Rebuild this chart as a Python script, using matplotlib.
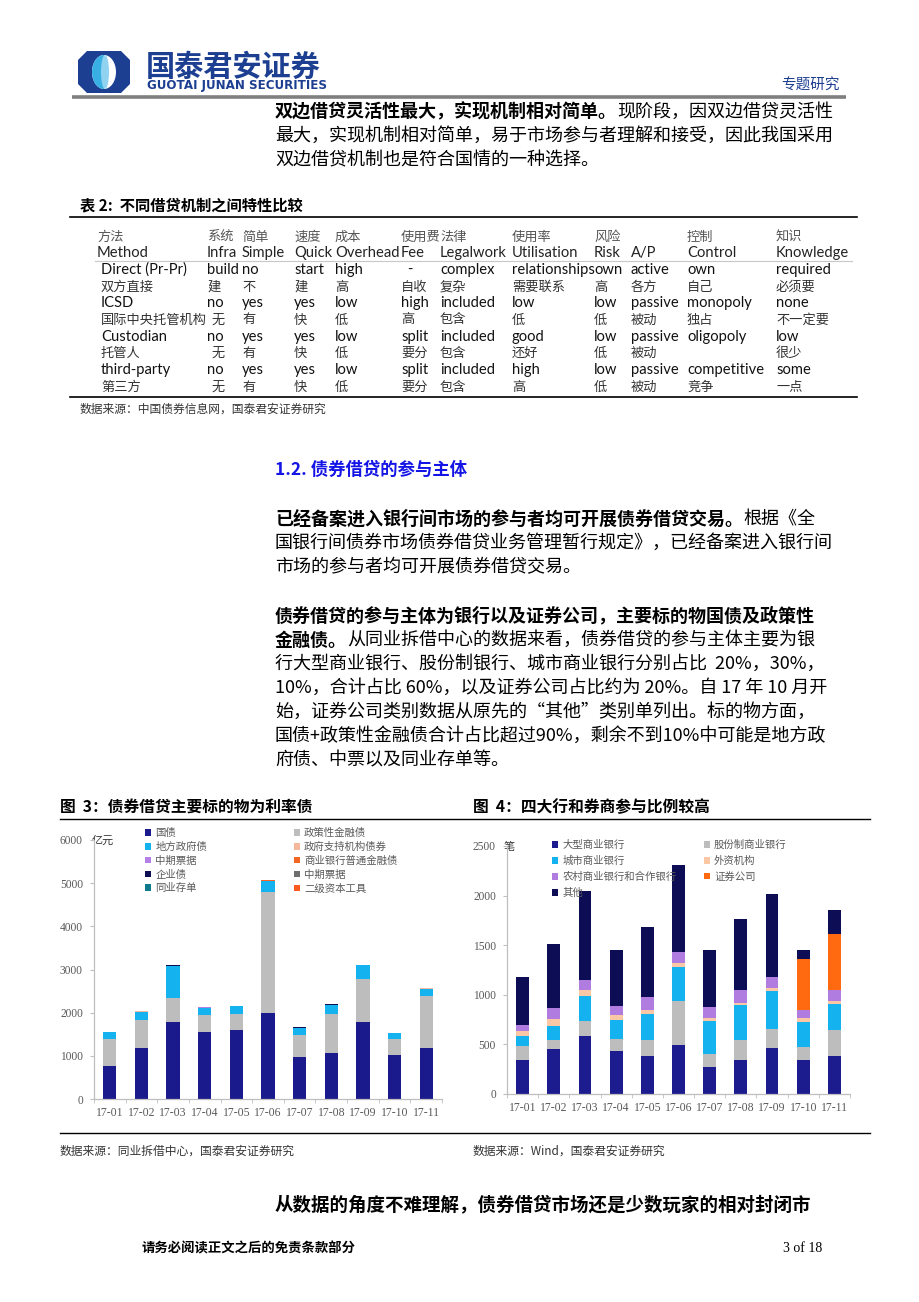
import matplotlib
matplotlib.use('Agg')
import matplotlib.pyplot as plt
from matplotlib.patches import Polygon, Ellipse
import numpy as np

CJK = ['Noto Sans CJK SC', 'DejaVu Sans']
SERIF = ['Liberation Serif', 'DejaVu Serif']
LAT = ['Lato', 'DejaVu Sans']
plt.rcParams['font.family'] = CJK

# ---------------- data ----------------
months = ['17-01', '17-02', '17-03', '17-04', '17-05', '17-06',
          '17-07', '17-08', '17-09', '17-10', '17-11']

# Figure 3 (亿元)
guozhai = [757, 1174, 1776, 1544, 1606, 1985, 965, 1058, 1776, 1012, 1189]
zhengce = [633, 648, 564, 402, 371, 2812, 518, 903, 1012, 386, 1205]
difang = [170, 201, 749, 162, 170, 246, 154, 217, 309, 131, 154]
zhengfu_zhichi = [0, 23, 0, 0, 0, 0, 0, 0, 0, 0, 16]
zhongpiao_a = [0, 0, 0, 16, 0, 0, 0, 0, 0, 0, 0]
shangye_jinrong = [0, 0, 0, 0, 0, 23, 0, 0, 0, 0, 0]
qiye = [0, 0, 23, 0, 0, 0, 23, 15, 0, 0, 0]
zhongpiao_b = [0, 0, 0, 0, 0, 0, 0, 0, 0, 0, 0]
tongye = [0, 0, 0, 0, 15, 0, 0, 0, 0, 0, 0]
erji = [0, 0, 0, 0, 0, 0, 0, 0, 15, 0, 0]

# Figure 4 (笔)
daxing = [341, 456, 584, 432, 385, 490, 277, 338, 466, 338, 385]
gufen = [142, 88, 152, 125, 162, 449, 128, 202, 186, 135, 264]
chengshang = [105, 145, 247, 193, 260, 338, 335, 355, 389, 250, 256]
waizi = [47, 71, 61, 51, 41, 47, 30, 24, 30, 41, 34]
nongcun = [58, 108, 108, 84, 128, 112, 112, 132, 111, 81, 108]
zhengquan = [0, 0, 0, 0, 0, 0, 0, 0, 0, 520, 561]
qita = [489, 649, 895, 568, 706, 874, 567, 713, 831, 84, 250]

ticks3 = [0, 1000, 2000, 3000, 4000, 5000, 6000]
ticks4 = [0, 500, 1000, 1500, 2000, 2500]

# table
tab_cols = [97, 207, 242, 294, 335, 401, 440, 512, 594, 631, 687, 776]
tab_head_cn = ['方法', '系统', '简单', '速度', '成本', '使用费', '法律', '使用率', '风险', '', '控制', '知识']
tab_head_en = ['Method', 'Infra', 'Simple', 'Quick', 'Overhead', 'Fee', 'Legalwork',
               'Utilisation', 'Risk', 'A/P', 'Control', 'Knowledge']
tab_rows = [
    ['Direct (Pr-Pr)', 'build', 'no', 'start', 'high', '-', 'complex', 'relationships', 'own', 'active', 'own', 'required'],
    ['双方直接', '建', '不', '建', '高', '自收', '复杂', '需要联系', '高', '各方', '自己', '必须要'],
    ['ICSD', 'no', 'yes', 'yes', 'low', 'high', 'included', 'low', 'low', 'passive', 'monopoly', 'none'],
    ['国际中央托管机构', '无', '有', '快', '低', '高', '包含', '低', '低', '被动', '独占', '不一定要'],
    ['Custodian', 'no', 'yes', 'yes', 'low', 'split', 'included', 'good', 'low', 'passive', 'oligopoly', 'low'],
    ['托管人', '无', '有', '快', '低', '要分', '包含', '还好', '低', '被动', '', '很少'],
    ['third-party', 'no', 'yes', 'yes', 'low', 'split', 'included', 'high', 'low', 'passive', 'competitive', 'some'],
    ['第三方', '无', '有', '快', '低', '要分', '包含', '高', '低', '被动', '竞争', '一点'],
]

# ---------------- page ----------------
fig = plt.figure(figsize=(9.2, 13.02), dpi=100)
fig.patch.set_facecolor('white')
page = fig.add_axes([0, 0, 1, 1])
page.set_xlim(0, 920)
page.set_ylim(1302, 0)
page.axis('off')
renderer = fig.canvas.get_renderer()

# logo
cx, cy = 104, 72
w, h = 26, 21
c = 9
octo = [(cx - w + c, cy - h), (cx + w - c, cy - h), (cx + w, cy - h + c), (cx + w, cy + h - c),
        (cx + w - c, cy + h), (cx - w + c, cy + h), (cx - w, cy + h - c), (cx - w, cy - h + c)]
page.add_patch(Polygon(octo, closed=True, facecolor='#1d3f92', edgecolor='none'))
page.add_patch(Ellipse((cx, cy), 24, 34, facecolor='white', edgecolor='none'))
tt = np.linspace(np.pi / 2, 3 * np.pi / 2, 40)
half = [(cx + 12 * np.cos(t), cy + 17 * np.sin(t)) for t in tt]
page.add_patch(Polygon(half, closed=True, facecolor='#39b0e4', edgecolor='none'))
page.add_patch(Ellipse((cx + 1, cy), 8, 34, facecolor='#8fd3f0', edgecolor='none'))

page.text(146, 67, '国泰君安证券', fontsize=21, fontweight='bold', color='#1d3f92', va='center', ha='left')
page.text(147, 86, 'GUOTAI JUNAN SECURITIES', fontsize=8.6, fontweight='bold', color='#1d3f92',
          va='center', ha='left', family=['DejaVu Sans'])
page.text(840, 85, '专题研究', fontsize=10.5, color='#1d3f92', va='center', ha='right')
page.plot([72, 846], [97, 97], color='#7f7f7f', lw=2.6, solid_capstyle='butt')


def seg_line(x, y, segs, size=13.0, color='black'):
    for s, bold in segs:
        t = page.text(x, y, s, fontsize=size, fontweight='bold' if bold else 'normal',
                      va='center', ha='left', color=color, family=CJK)
        x += t.get_window_extent(renderer=renderer).width


# paragraph 1
seg_line(275, 112, [('双边借贷灵活性最大，实现机制相对简单。', True), ('现阶段，因双边借贷灵活性', False)])
seg_line(275, 136, [('最大，实现机制相对简单，易于市场参与者理解和接受，因此我国采用', False)])
seg_line(275, 160, [('双边借贷机制也是符合国情的一种选择。', False)])

# table
page.text(80, 205, '表 2:  不同借贷机制之间特性比较', fontsize=11, fontweight='bold', va='center', ha='left')
page.plot([70, 857], [217, 217], color='black', lw=1.2)
page.plot([70, 857], [397, 397], color='black', lw=1.2)
page.plot([95, 852], [261, 261], color='#c8c8c8', lw=0.8)
for x, s in zip(tab_cols, tab_head_cn):
    if s:
        page.text(x, 237, s, fontsize=9.5, color='#555555', va='center', ha='left', family=CJK)
for x, s in zip(tab_cols, tab_head_en):
    page.text(x, 253, s, fontsize=10.6, color='#222222', va='center', ha='left', family=LAT)
row_y = [270, 287, 303, 320, 337, 353, 370, 387]
for i, (yy, row) in enumerate(zip(row_y, tab_rows)):
    for j, s in enumerate(row):
        if not s:
            continue
        x = tab_cols[j]
        if j == 0:
            x = 101
        if j == 5 and s == '-':
            x = 407
        if i % 2 == 1:
            if j == 1 and i >= 3:
                x = 212
            page.text(x, yy, s, fontsize=9.5, color='#333333', va='center', ha='left', family=CJK)
        else:
            page.text(x, yy, s, fontsize=10.6, color='#111111', va='center', ha='left', family=LAT)
page.text(80, 409, '数据来源：中国债券信息网，国泰君安证券研究', fontsize=8.5, color='#333333', va='center', ha='left')

# section 1.2
page.text(275, 470, '1.2. 债券借贷的参与主体', fontsize=12.5, fontweight='bold', color='#1414e6', va='center', ha='left')

seg_line(275, 519, [('已经备案进入银行间市场的参与者均可开展债券借贷交易。', True), ('根据《全', False)])
seg_line(275, 543, [('国银行间债券市场债券借贷业务管理暂行规定》，已经备案进入银行间', False)])
seg_line(275, 567, [('市场的参与者均可开展债券借贷交易。', False)])

seg_line(275, 616, [('债券借贷的参与主体为银行以及证券公司，主要标的物国债及政策性', True)])
seg_line(275, 640, [('金融债。', True), ('从同业拆借中心的数据来看，债券借贷的参与主体主要为银', False)])
seg_line(275, 664, [('行大型商业银行、股份制银行、城市商业银行分别占比  20%，30%，', False)])
seg_line(275, 688, [('10%，合计占比 60%，以及证券公司占比约为 20%。自 17 年 10 月开', False)])
seg_line(275, 712, [('始，证券公司类别数据从原先的“其他”类别单列出。标的物方面，', False)])
seg_line(275, 736, [('国债+政策性金融债合计占比超过90%，剩余不到10%中可能是地方政', False)])
seg_line(275, 760, [('府债、中票以及同业存单等。', False)])

# figure titles
page.text(60, 807, '图  3：债券借贷主要标的物为利率债', fontsize=11.3, fontweight='bold', va='center', ha='left')
page.text(473, 807, '图  4：四大行和券商参与比例较高', fontsize=11.3, fontweight='bold', va='center', ha='left')
page.plot([60, 870], [819, 819], color='black', lw=1.0)
page.plot([60, 870], [1133, 1133], color='black', lw=1.0)
page.text(60, 1151, '数据来源：同业拆借中心，国泰君安证券研究', fontsize=8.5, color='#333333', va='center', ha='left')
page.text(473, 1151, '数据来源：Wind，国泰君安证券研究', fontsize=8.5, color='#333333', va='center', ha='left')

seg_line(275, 1205, [('从数据的角度不难理解，债券借贷市场还是少数玩家的相对封闭市', True)], size=13.3)

page.text(142, 1248, '请务必阅读正文之后的免责条款部分', fontsize=9.6, fontweight='bold', va='center', ha='left')
page.text(783, 1248, '3 of 18', fontsize=10, va='center', ha='left', family=SERIF)

# units
page.text(92, 841, '亿元', fontsize=8, color='#333333', va='center', ha='left')
page.text(504, 847, '笔', fontsize=8, color='#333333', va='center', ha='left')


def style_axes(ax, ticks, ymax):
    x = np.arange(len(months))
    ax.set_xlim(-0.5, len(months) - 0.5)
    ax.set_ylim(0, ymax)
    for s in ['top', 'right']:
        ax.spines[s].set_visible(False)
    for s in ['left', 'bottom']:
        ax.spines[s].set_color('#bfbfbf')
        ax.spines[s].set_linewidth(0.9)
    ax.set_yticks(ticks)
    ax.set_yticklabels([str(t) for t in ticks], fontfamily=SERIF, fontsize=8.3, color='#595959')
    ax.set_xticks(x)
    ax.set_xticklabels(months, fontfamily=SERIF, fontsize=8.5, color='#595959')
    ax.set_xticks(np.arange(-0.5, len(months), 1.0), minor=True)
    ax.tick_params(axis='x', which='major', length=0, pad=6)
    ax.tick_params(axis='x', which='minor', length=3, color='#bfbfbf', direction='out')
    ax.tick_params(axis='y', which='major', length=3, color='#bfbfbf', pad=5)
    ax.patch.set_alpha(0)


# chart 3
ax3 = fig.add_axes([94 / 920, 1 - 1099 / 1302, 348 / 920, 259 / 1302])
series3 = [
    ('国债', guozhai, '#1a1a8c'),
    ('政策性金融债', zhengce, '#bdbdbd'),
    ('地方政府债', difang, '#14b2ee'),
    ('政府支持机构债券', zhengfu_zhichi, '#f6b89a'),
    ('中期票据', zhongpiao_a, '#b580e6'),
    ('商业银行普通金融债', shangye_jinrong, '#f26522'),
    ('企业债', qiye, '#0e0e55'),
    ('中期票据 ', zhongpiao_b, '#6e6e6e'),
    ('同业存单', tongye, '#0f7a8c'),
    ('二级资本工具', erji, '#ff5a1f'),
]
x = np.arange(len(months))
bottom = np.zeros(len(months))
handles3 = {}
for name, vals, col in series3:
    v = np.array(vals, dtype=float)
    b = ax3.bar(x, v, width=0.42, bottom=bottom, color=col, edgecolor='none', label=name)
    handles3[name] = b
    bottom += v
style_axes(ax3, ticks3, 6000)
order3 = ['国债', '地方政府债', '中期票据', '企业债', '同业存单',
          '政策性金融债', '政府支持机构债券', '商业银行普通金融债', '中期票据 ', '二级资本工具']
leg3 = ax3.legend([handles3[n] for n in order3], [n.strip() for n in order3], ncol=2,
                  loc='upper left', bbox_to_anchor=(145 / 920, 1 - 828 / 1302),
                  bbox_transform=fig.transFigure, frameon=False, fontsize=7.5,
                  handlelength=0.6, handleheight=0.6, handletextpad=0.4,
                  columnspacing=8.3, labelspacing=0.36, borderpad=0, borderaxespad=0,
                  labelcolor='#595959')

# chart 4
ax4 = fig.add_axes([507 / 920, 1 - 1094 / 1302, 343 / 920, 248 / 1302])
series4 = [
    ('大型商业银行', daxing, '#1c1c8e'),
    ('股份制商业银行', gufen, '#bdbdbd'),
    ('城市商业银行', chengshang, '#14b2ee'),
    ('外资机构', waizi, '#fbc7a4'),
    ('农村商业银行和合作银行', nongcun, '#b07ce0'),
    ('证券公司', zhengquan, '#ff6a10'),
    ('其他', qita, '#0d0d55'),
]
bottom = np.zeros(len(months))
handles4 = {}
for name, vals, col in series4:
    v = np.array(vals, dtype=float)
    b = ax4.bar(x, v, width=0.41, bottom=bottom, color=col, edgecolor='none', label=name)
    handles4[name] = b
    bottom += v
style_axes(ax4, ticks4, 2500)
order4 = ['大型商业银行', '城市商业银行', '农村商业银行和合作银行', '其他',
          '股份制商业银行', '外资机构', '证券公司']
leg4 = ax4.legend([handles4[n] for n in order4], order4, ncol=2,
                  loc='upper left', bbox_to_anchor=(552 / 920, 1 - 840 / 1302),
                  bbox_transform=fig.transFigure, frameon=False, fontsize=7.5,
                  handlelength=0.6, handleheight=0.6, handletextpad=0.4,
                  columnspacing=2.6, labelspacing=0.55, borderpad=0, borderaxespad=0,
                  labelcolor='#595959')

fig.savefig('out.png', dpi=100, facecolor='white')
